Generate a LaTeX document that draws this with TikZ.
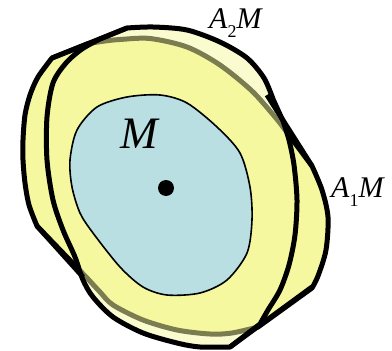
\documentclass[tikz,border=0pt]{standalone}
\usepackage{fontspec}
\setmainfont{Liberation Serif}
\definecolor{ylw}{RGB}{246,248,160}
\definecolor{mblue}{RGB}{185,223,227}
\tikzset{
  outline/.style={draw=black,line width=5pt,line join=round},
  thin outline/.style={draw=black,line width=1.6pt,line join=round},
  seg/.style={draw=black,line width=5pt,line cap=butt},
  lbl/.style={inner sep=0pt,anchor=base west,font=\fontsize{30}{30}\selectfont\itshape},
  sub/.style={}
}
\newcommand{\subnum}[1]{\raisebox{-0.3em}{\upshape\fontsize{18}{18}\selectfont #1}}
\begin{document}
\begin{tikzpicture}[x=1pt,y=-1pt]
\useasboundingbox (0,0) rectangle (392,351);
% tangent segment end points
\coordinate (s1a) at (52,58);   \coordinate (s1b) at (127,28);
\coordinate (s2a) at (267,95);  \coordinate (s2b) at (312,166);
\coordinate (s3a) at (37,226);  \coordinate (s3b) at (83,277);
\coordinate (s4a) at (312,287); \coordinate (s4b) at (230,347);
% A1 M (opaque, below)
\path[fill=ylw,outline]
  (s1a) -- (88,43.6)
  -- plot[smooth] coordinates {(88,43.6) (105,41) (120,39.5) (150,38.5) (187,47) (220,65) (253,92) (280,123)}
  -- (s2b)
  -- plot[smooth] coordinates {(312,166) (322,190) (328,217) (326,250) (318,276) (312,288)}
  -- (258,327)
  -- plot[smooth] coordinates {(258,327) (232,333) (210,334) (177,330) (143,320) (113,305) (100,292) (88,279)}
  -- (s3a)
  -- plot[smooth] coordinates {(37,226) (29,205) (25,183) (23,160) (23,140) (25,115) (30,95) (38,77) (52,58)}
  -- cycle;
% A2 M (translucent, above)
\path[fill=ylw,fill opacity=0.5]
  (100,39) -- (s1b)
  -- plot[smooth] coordinates {(127,28) (153,27) (187,30) (220,42) (247,58) (264,78) (273,99)}
  -- (283,121)
  -- plot[smooth] coordinates {(283,121) (289,140) (294,165) (297,200) (295,235) (289,265) (280,290) (268,310) (260,324)}
  -- (s4b)
  -- plot[smooth] coordinates {(230,347) (200,347) (177,343) (143,333) (113,317) (93,297) (83,280) (75,257) (63,230) (53,200) (47,160) (47,117) (53,83) (66,63) (82,49) (100,39)}
  -- cycle;
\path[outline]
  (100,39) -- (s1b)
  -- plot[smooth] coordinates {(127,28) (153,27) (187,30) (220,42) (247,58) (264,78) (273,99)}
  -- (283,121)
  -- plot[smooth] coordinates {(283,121) (289,140) (294,165) (297,200) (295,235) (289,265) (280,290) (268,310) (260,324)}
  -- (s4b)
  -- plot[smooth] coordinates {(230,347) (200,347) (177,343) (143,333) (113,317) (93,297) (83,280) (75,257) (63,230) (53,200) (47,160) (47,117) (53,83) (66,63) (82,49) (100,39)}
  -- cycle;
% tangent segments
\draw[seg] (s1a) -- (s1b);
\draw[seg] (s2a) -- (s2b);
\draw[seg] (s3a) -- (s3b);
\draw[seg] (s4a) -- (s4b);
% M
\path[fill=mblue,thin outline] plot[smooth cycle] coordinates {(70,160) (77,130) (97,107) (127,97) (160,95) (187,103) (217,127) (240,153) (250,187) (252,220) (247,253) (227,280) (200,293) (167,295) (143,287) (120,267) (93,233) (80,213) (72,187)};
\node[circle,fill=black,minimum size=16pt,inner sep=0pt] (dot) at (166,188) {};
% labels
\node[lbl] (a2lbl) at (209,28) {A\subnum{2}M};
\node[lbl] (a1lbl) at (331,197) {A\subnum{1}M};
\node[lbl,font=\fontsize{45}{45}\selectfont\itshape] (mlbl) at (120,148) {M};
\end{tikzpicture}
\end{document}
